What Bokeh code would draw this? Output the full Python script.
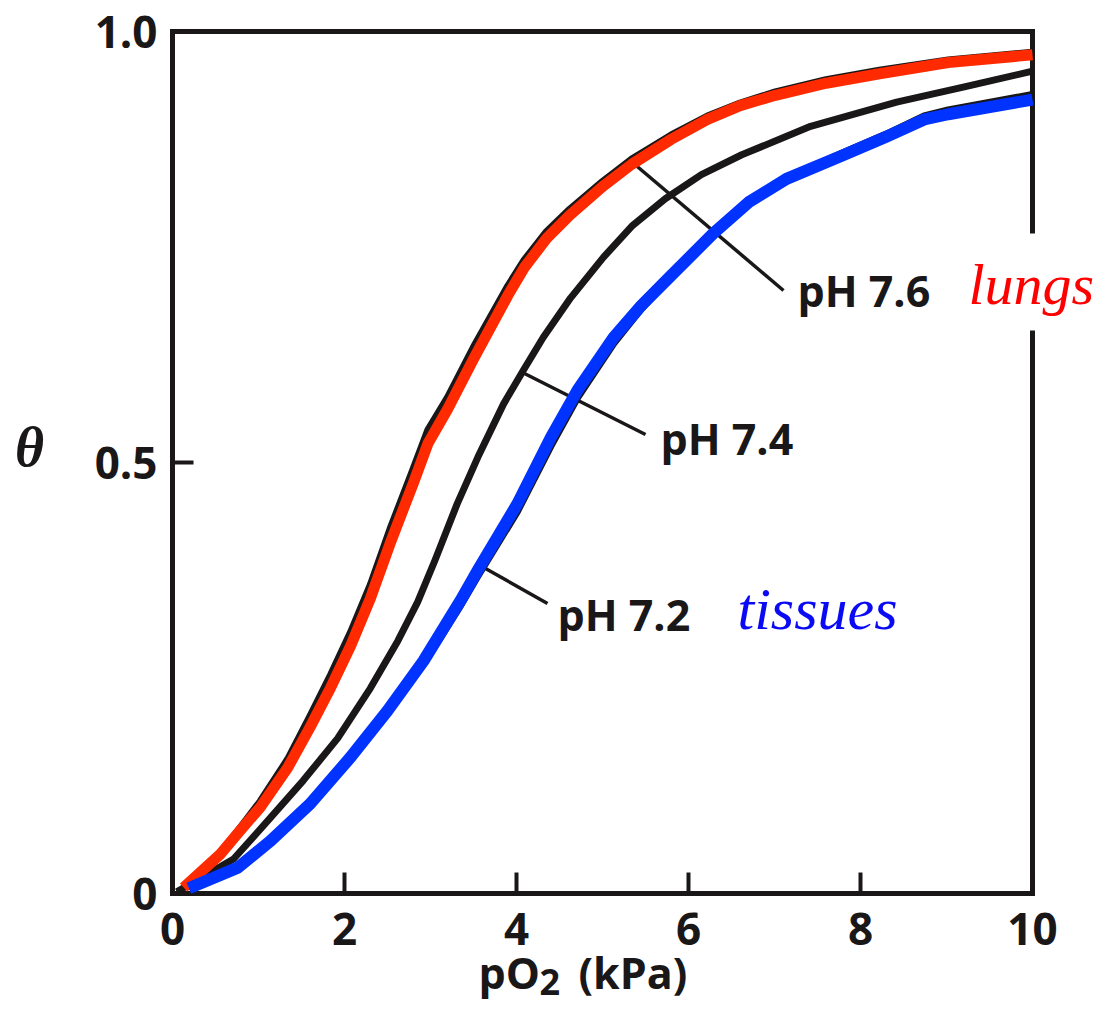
from bokeh.plotting import figure
from bokeh.models import Range1d, Label
from bokeh.core.properties import value
from bokeh.embed import file_html
from bokeh.resources import INLINE

# ---------------- data ----------------
# pO2 (kPa) and fractional saturation theta
ph76_x = [0.13, 0.56, 0.76, 1.02, 1.34, 1.60, 1.84, 2.07, 2.30, 2.53, 2.80, 2.97, 3.20, 3.50,
          3.90, 4.09, 4.35, 4.62, 5.00, 5.34, 5.80, 6.22, 6.60, 7.01, 7.60, 8.22, 9.02, 10.0]
ph76_lungs = [0.007, 0.046, 0.070, 0.100, 0.146, 0.193, 0.239, 0.287, 0.342, 0.406, 0.476,
              0.522, 0.562, 0.620, 0.694, 0.726, 0.760, 0.787, 0.820, 0.846, 0.875, 0.898,
              0.914, 0.926, 0.940, 0.951, 0.964, 0.973]
ph76_ref = [0.007, 0.047, 0.073, 0.107, 0.156, 0.206, 0.254, 0.303, 0.358, 0.423, 0.493,
            0.538, 0.576, 0.634, 0.705, 0.735, 0.768, 0.794, 0.826, 0.852, 0.880, 0.902,
            0.917, 0.930, 0.944, 0.955, 0.967, 0.976]

ph74_x = [0.05, 0.33, 0.71, 1.14, 1.52, 1.92, 2.30, 2.62, 2.85, 3.05, 3.31, 3.55, 3.85,
          4.08, 4.31, 4.63, 5.01, 5.35, 5.73, 6.15, 6.62, 7.42, 8.42, 9.22, 10.0]
ph74 = [0.002, 0.018, 0.040, 0.088, 0.131, 0.180, 0.238, 0.293, 0.338, 0.386, 0.452, 0.506,
        0.568, 0.607, 0.645, 0.691, 0.738, 0.775, 0.806, 0.834, 0.857, 0.890, 0.918, 0.936,
        0.954]

ph72_x = [0.19, 0.76, 1.14, 1.60, 2.07, 2.50, 2.92, 3.35, 3.55, 4.01, 4.40, 4.71, 5.13,
          5.45, 5.81, 6.29, 6.70, 7.14, 7.81, 8.30, 8.74, 9.02, 10.0]
ph72_tissues = [0.006, 0.030, 0.061, 0.104, 0.158, 0.212, 0.270, 0.340, 0.375, 0.452, 0.529,
                0.584, 0.645, 0.682, 0.718, 0.766, 0.802, 0.829, 0.857, 0.878, 0.898, 0.904,
                0.921]
ph72_ref = [0.006, 0.030, 0.061, 0.103, 0.156, 0.209, 0.266, 0.334, 0.368, 0.443, 0.519,
            0.575, 0.638, 0.678, 0.716, 0.766, 0.802, 0.830, 0.860, 0.881, 0.902, 0.909,
            0.927]

x_ticks = [0, 2, 4, 6, 8, 10]
x_tick_labels = ["0", "2", "4", "6", "8", "10"]
y_ticks = [0, 0.5, 1.0]
y_tick_labels = ["0", "0.5", "1.0"]

curve_labels = ["pH 7.6", "pH 7.4", "pH 7.2"]
site_labels = ["lungs", "tissues"]

# ---------------- layout helpers (pixel positions -> data) ----------------
W, H = 1096, 1006
X0PX, Y0PX = 172.0, 893.0      # pixel position of the origin
XS, YS = 86.0, 862.0           # pixels per unit


def px_x(px):
    return (px - X0PX) / XS


def px_y(py):
    return (Y0PX - py) / YS


BLACK = "#1a1718"
RED = "#ff2a00"
BLUE = "#0033ff"
SANS = "Open Sans"
SERIF = "Liberation Serif"

p = figure(width=W, height=H,
           x_range=Range1d(px_x(0), px_x(W)), y_range=Range1d(px_y(H), px_y(0)),
           x_axis_type=None, y_axis_type=None,
           output_backend="svg", toolbar_location=None,
           min_border=0, min_border_left=0, min_border_right=0,
           min_border_top=0, min_border_bottom=0)
p.outline_line_color = None
p.grid.visible = False
p.background_fill_color = "white"
p.border_fill_color = "white"

# frame with a gap in the right spine where "lungs" sits
xmin, xmax = x_ticks[0], x_ticks[-1]
ymin, ymax = y_ticks[0], y_ticks[-1]
gap_lo, gap_hi = px_y(330), px_y(233)
p.line([xmax, xmax, xmin, xmin, xmax, xmax], [gap_hi, ymax, ymax, ymin, ymin, gap_lo],
       line_color=BLACK, line_width=5, line_join="miter")

# inward ticks
tick_len_x = 21 / YS
tick_len_y = 21 / XS
p.segment(x_ticks, [ymin] * len(x_ticks), x_ticks, [ymin + tick_len_x] * len(x_ticks),
          line_color=BLACK, line_width=4)
p.segment([xmin] * len(y_ticks), y_ticks, [xmin + tick_len_y] * len(y_ticks), y_ticks,
          line_color=BLACK, line_width=4)

# tick labels
p.text(x=x_ticks, y=[px_y(928)] * len(x_ticks), text=x_tick_labels,
       text_font=value(SANS), text_font_style="bold", text_font_size="44px",
       text_color=BLACK, text_align="center", text_baseline="middle")
p.text(x=[px_x(157)] * len(y_ticks), y=y_ticks,
       text=y_tick_labels,
       text_font=value(SANS), text_font_style="bold", text_font_size="44px",
       text_color=BLACK, text_align="right", text_baseline="middle")

# underlying black curves
p.line(ph76_x, ph76_ref, line_color=BLACK, line_width=7, line_join="round")
p.line(ph74_x, ph74, line_color=BLACK, line_width=7, line_join="round")
p.line(ph72_x, ph72_ref, line_color=BLACK, line_width=7, line_join="round")

# leader lines for the curve labels
lead_x0 = [px_x(632), px_x(522), px_x(485)]
lead_y0 = [px_y(162), px_y(372), px_y(568)]
lead_x1 = [px_x(783), px_x(645), px_x(547)]
lead_y1 = [px_y(290), px_y(434), px_y(603)]
p.segment(lead_x0, lead_y0, lead_x1, lead_y1, line_color=BLACK, line_width=3.5)

# coloured curves
p.line(ph76_x, ph76_lungs, line_color=RED, line_width=11, line_join="round")
p.line(ph72_x, ph72_tissues, line_color=BLUE, line_width=12, line_join="round")

# curve labels
lab_px = [(797, 290), (660, 438), (557, 614)]
for t, (lx, ly) in zip(curve_labels, lab_px):
    p.add_layout(Label(x=px_x(lx), y=px_y(ly), text=t, text_font=SANS,
                       text_font_style="bold", text_font_size="43px", text_color=BLACK,
                       text_align="left", text_baseline="middle"))

p.add_layout(Label(x=px_x(968), y=px_y(284), text=site_labels[0], text_font=SERIF,
                   text_font_style="italic", text_font_size="58px", text_color="#ff0000",
                   text_align="left", text_baseline="middle"))
p.add_layout(Label(x=px_x(737), y=px_y(608), text=site_labels[1], text_font=SERIF,
                   text_font_style="italic", text_font_size="60px", text_color="#0a0af5",
                   text_align="left", text_baseline="middle"))

# axis titles
p.add_layout(Label(x=px_x(29), y=px_y(446), text="θ", text_font=SERIF,
                   text_font_style="bold italic", text_font_size="56px", text_color=BLACK,
                   text_align="center", text_baseline="middle"))
p.add_layout(Label(x=px_x(478), y=px_y(972), text="pO", text_font=SANS,
                   text_font_style="bold", text_font_size="43px", text_color=BLACK,
                   text_align="left", text_baseline="middle"))
p.add_layout(Label(x=px_x(539), y=px_y(981), text="2", text_font=SANS,
                   text_font_style="bold", text_font_size="36px", text_color=BLACK,
                   text_align="left", text_baseline="middle"))
p.add_layout(Label(x=px_x(578), y=px_y(972), text="(kPa)", text_font=SANS,
                   text_font_style="bold", text_font_size="43px", text_color=BLACK,
                   text_align="left", text_baseline="middle"))

open("out.html", "w").write(file_html(p, INLINE))
